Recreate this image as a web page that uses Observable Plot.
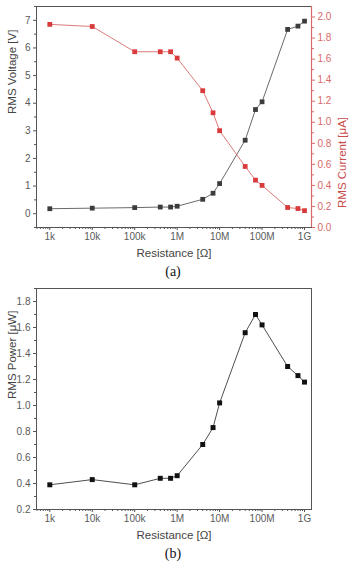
<!DOCTYPE html>
<html>
<head>
<meta charset="utf-8">
<script src="https://cdn.jsdelivr.net/npm/d3@7"></script>
<script src="https://cdn.jsdelivr.net/npm/@observablehq/plot@0.6"></script>
<style>
  html, body { margin: 0; padding: 0; background: #fff; }
  body { width: 354px; }
  .cap { font-family: "Liberation Serif", "Times New Roman", serif; font-size: 14px; line-height: 16px; height: 16px; text-align: center; color: #111; padding-right: 8px; }
  svg { display: block; }
</style>
</head>
<body>
<div id="chartA"></div>
<div class="cap">(a)</div>
<div id="chartB"></div>
<div class="cap">(b)</div>
<script>
// ---- data ----
const resistance = [1e3, 1e4, 1e5, 4e5, 7e5, 1e6, 4e6, 7e6, 1e7, 4e7, 7e7, 1e8, 4e8, 7e8, 1e9];
const voltage = [0.18, 0.20, 0.22, 0.24, 0.24, 0.27, 0.52, 0.74, 1.09, 2.66, 3.77, 4.05, 6.67, 6.79, 6.97];
const current = [1.93, 1.91, 1.67, 1.67, 1.67, 1.61, 1.30, 1.09, 0.92, 0.58, 0.45, 0.40, 0.19, 0.18, 0.16];
const power = [0.39, 0.43, 0.39, 0.44, 0.44, 0.46, 0.70, 0.83, 1.02, 1.56, 1.70, 1.62, 1.30, 1.23, 1.18];

const xTicks = [1e3, 1e4, 1e5, 1e6, 1e7, 1e8, 1e9];
const xTickLabels = ["1k", "10k", "100k", "1M", "10M", "100M", "1G"];
const voltageTicks = [0, 1, 2, 3, 4, 5, 6, 7];
const voltageMinor = [-0.5, 0.5, 1.5, 2.5, 3.5, 4.5, 5.5, 6.5, 7.5];
const currentTicks = [0, 0.2, 0.4, 0.6, 0.8, 1.0, 1.2, 1.4, 1.6, 1.8, 2.0];
const currentMinor = [0.1, 0.3, 0.5, 0.7, 0.9, 1.1, 1.3, 1.5, 1.7, 1.9];
const powerTicks = [0.2, 0.4, 0.6, 0.8, 1.0, 1.2, 1.4, 1.6, 1.8];
const powerMinor = [0.3, 0.5, 0.7, 0.9, 1.1, 1.3, 1.5, 1.7, 1.9];

const xTitle = "Resistance [Ω]";
const voltageTitle = "RMS Voltage [V]";
const currentTitle = "RMS Current [μA]";
const powerTitle = "RMS Power [μW]";

const xDomain = [486, 1.46e9];
const vDomain = [-0.5, 7.5];
const cDomain = [0, 2.1];
const pDomain = [0.2, 1.9];

// ---- helpers ----
const xMinor = [];
for (let e = 2; e <= 9; e++) for (let m = 2; m <= 9; m++) {
  const v = m * Math.pow(10, e);
  if (v >= xDomain[0] && v <= xDomain[1]) xMinor.push(v);
}
const xLabelOf = new Map(xTicks.map((t, i) => [t, xTickLabels[i]]));
const toV = c => vDomain[0] + (c - cDomain[0]) * (vDomain[1] - vDomain[0]) / (cDomain[1] - cDomain[0]);
const fromV = v => cDomain[0] + (v - vDomain[0]) * (cDomain[1] - cDomain[0]) / (vDomain[1] - vDomain[0]);

const dataA = resistance.map((r, i) => ({r, v: voltage[i], c: toV(current[i])}));
const dataB = resistance.map((r, i) => ({r, p: power[i]}));

const AX = "#555";
const TXT = "#5a5a5a";
const RED = "#d93a3c";
const RED_AX = "#d86a6a";
const font = "'Liberation Sans', Arial, sans-serif";
const TICK_FS = 10;
const TITLE_FS = 11.5;

function xAxes() {
  return [
    Plot.axisX(xMinor, {tickSize: 2, tickFormat: () => "", stroke: AX, label: null}),
    Plot.axisX(xTicks, {tickSize: 3, tickPadding: 2, tickFormat: d => xLabelOf.get(d), stroke: AX, fill: TXT, fontSize: TICK_FS, label: null}),
    Plot.text([xTitle], {text: d => d, frameAnchor: "bottom", dy: 29, fontSize: TITLE_FS, fill: "#444"})
  ];
}

const chartA = Plot.plot({
  width: 354, height: 264,
  marginLeft: 36, marginRight: 43, marginTop: 6, marginBottom: 37,
  style: {fontFamily: font, fontSize: "10px", color: TXT, background: "#fff"},
  x: {type: "log", domain: xDomain, axis: null},
  y: {domain: vDomain, axis: null},
  marks: [
    Plot.frame({stroke: AX, strokeWidth: 1}),
    Plot.ruleX([xDomain[1]], {stroke: RED_AX, strokeWidth: 1.2}),
    ...xAxes(),
    Plot.axisY(voltageMinor, {tickSize: 2, tickFormat: () => "", stroke: AX, label: null}),
    Plot.axisY(voltageTicks, {tickSize: 3, tickPadding: 3, stroke: AX, fill: TXT, fontSize: TICK_FS, label: null}),
    Plot.text([voltageTitle], {text: d => d, frameAnchor: "left", dx: -24, dy: -3, rotate: -90, fontSize: TITLE_FS, fill: "#444"}),
    Plot.axisY(currentMinor.map(toV), {anchor: "right", tickSize: 2, tickFormat: () => "", stroke: RED_AX, label: null}),
    Plot.axisY(currentTicks.map(toV), {anchor: "right", tickSize: 3, tickPadding: 3, stroke: RED_AX, fill: RED_AX, fontSize: TICK_FS,
      tickFormat: v => fromV(v).toFixed(1), label: null}),
    Plot.text([currentTitle], {text: d => d, frameAnchor: "right", dx: 31, rotate: -90, fontSize: TITLE_FS, fill: "#c94c4c"}),
    Plot.line(dataA, {x: "r", y: "v", stroke: "#444", strokeWidth: 0.8}),
    Plot.line(dataA, {x: "r", y: "c", stroke: "#d45858", strokeWidth: 0.8}),
    Plot.dot(dataA, {x: "r", y: "v", symbol: "square", r: 2.7, fill: "#3c3c3c"}),
    Plot.dot(dataA, {x: "r", y: "c", symbol: "square", r: 2.7, fill: RED})
  ]
});
document.getElementById("chartA").append(chartA);

const chartB = Plot.plot({
  width: 354, height: 266,
  marginLeft: 36, marginRight: 43, marginTop: 8, marginBottom: 37,
  style: {fontFamily: font, fontSize: "10px", color: TXT, background: "#fff"},
  x: {type: "log", domain: xDomain, axis: null},
  y: {domain: pDomain, axis: null},
  marks: [
    Plot.frame({stroke: AX, strokeWidth: 1}),
    ...xAxes(),
    Plot.axisY(powerMinor, {tickSize: 2, tickFormat: () => "", stroke: AX, label: null}),
    Plot.axisY(powerTicks, {tickSize: 3, tickPadding: 3, stroke: AX, fill: TXT, fontSize: TICK_FS,
      tickFormat: d => d.toFixed(1), label: null}),
    Plot.text([powerTitle], {text: d => d, frameAnchor: "left", dx: -24, rotate: -90, fontSize: TITLE_FS, fill: "#444"}),
    Plot.line(dataB, {x: "r", y: "p", stroke: "#222", strokeWidth: 0.8}),
    Plot.dot(dataB, {x: "r", y: "p", symbol: "square", r: 2.8, fill: "#111"})
  ]
});
document.getElementById("chartB").append(chartB);
</script>
</body>
</html>
